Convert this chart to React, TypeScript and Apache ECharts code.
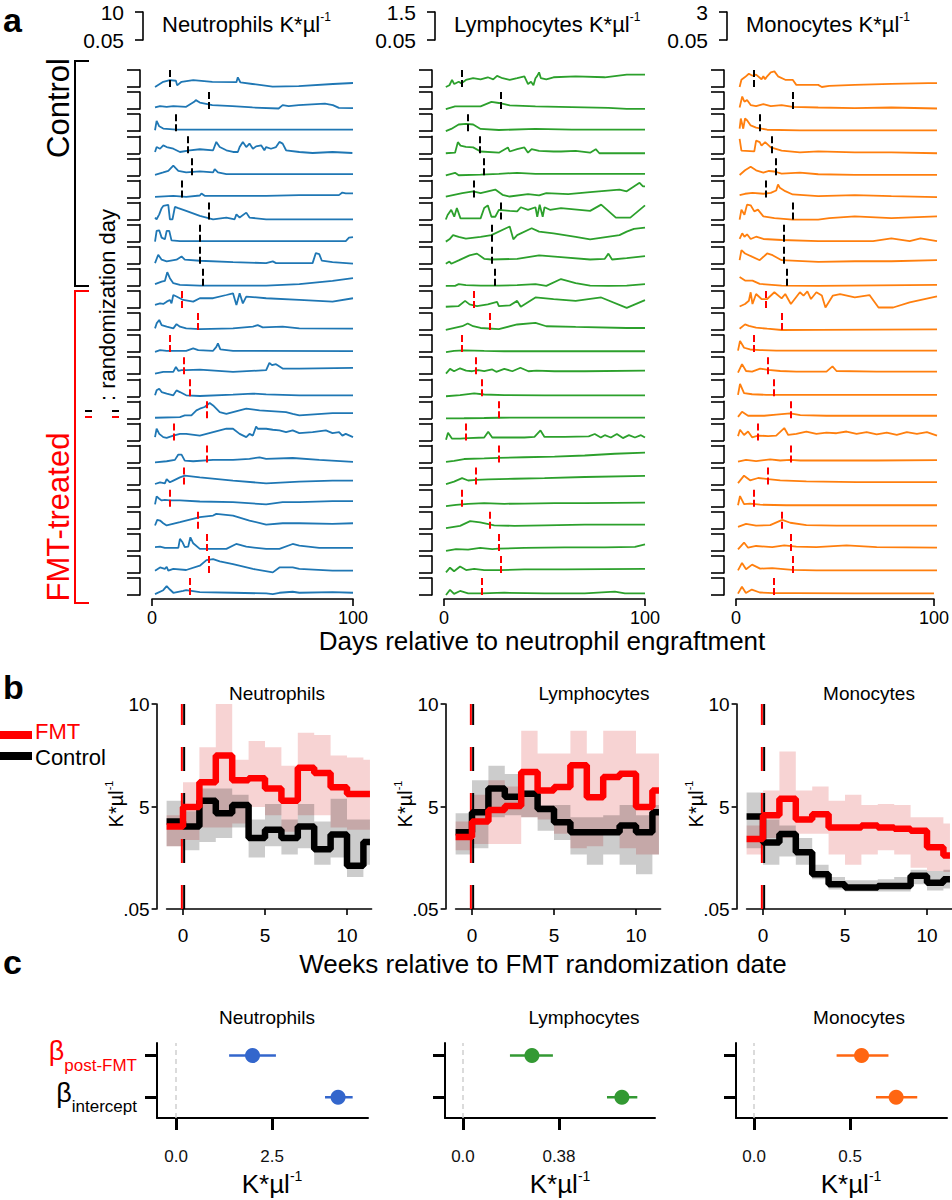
import React, { useEffect, useRef } from "react";
import * as echarts from "echarts";

const FONT = "'Liberation Sans', Arial, Helvetica, sans-serif";

// ================= Panel a data =================
const cellNames = ["Neutrophils", "Lymphocytes", "Monocytes"];
const rowScaleMin = 0.05;
const rowScaleMax = [10, 1.5, 3];
const rowScaleMaxLabel = ["10", "1.5", "3"];
const dayTicks = [0, 100];
const controlPatients = 10;
const randomizationDay = [9, 28, 12, 18, 20, 15, 28, 24, 24, 25, 15, 23, 9, 16, 19, 27, 11, 27, 16, 9, 23, 27, 28, 19];

const neutrophilRows = [
  [[1.5,0.1],[5.6,3.1],[8.9,4.1],[11.9,3.7],[12.5,1],[14.7,3.1],[20.5,4.1],[30,3.1],[42,2.9],[42.7,5.7],[44,2.7],[50,1.8],[60,0.3],[73,0.6],[90,1.8],[100,2.4]],
  [[1.5,1],[4,1.8],[7.3,1.4],[10.6,1.8],[17,1.4],[21,4.3],[21.8,5.3],[23.8,3.9],[30,2.4],[40,1.8],[50,1],[63,0.4],[65,2.4],[68,1.8],[73,2.4],[86,3.3],[90,2.4],[93,0.8],[100,0.6]],
  [[1.5,0.6],[2.3,6.1],[3.6,2.9],[5.6,1.6],[12,1],[50,1],[100,1]],
  [[1.5,0.8],[2.3,3.7],[4,2.7],[5.6,4.7],[7.3,3.7],[10.6,2.7],[13.9,0.8],[18.8,1.8],[23.8,2.4],[30.4,1.8],[32,6.7],[33.7,3.7],[37,1.8],[40.3,0.8],[42.7,0.8],[43.6,3.7],[45.2,6.7],[46.9,3.7],[48.5,5.7],[50.2,2.7],[51.8,4.1],[54.3,4.7],[55.9,1.8],[56.8,3.7],[59.2,2.7],[61.7,3.7],[63.4,6.7],[65,5.7],[66.7,1.8],[73.3,0.8],[79.9,0.2],[89.8,0.8],[99.7,0.2]],
  [[1.5,0.4],[5.6,1.8],[8.1,2.7],[10.6,5.7],[13.1,2.7],[17,1.8],[23.8,2.4],[30.4,1.8],[31.2,3.7],[32.8,1.8],[37,0.8],[50,0.8],[100,0.8]],
  [[1.5,0.4],[10.6,1],[17,0.4],[23.8,1.2],[24.6,2.4],[26.2,1],[40.3,1],[56.8,1],[73.3,1.4],[93,1.4],[94.7,2.9],[96.4,2.4],[100,2.4]],
  [[1.5,1.2],[2.3,0.2],[3.6,3.1],[4.8,6.7],[5.6,8],[8.1,8.6],[8.9,0.2],[10.2,0.2],[11.4,7.5],[13.1,6.7],[17,5.1],[23.8,2.2],[30.4,0.2],[37,1.2],[41.1,0.2],[42,3.1],[43.6,1.2],[46.9,4.1],[48.5,1.2],[56.8,0.2],[73.3,0.1],[89.8,0.2],[100,0.1]],
  [[1.5,0.1],[2.3,6.3],[3.6,6.7],[4.8,2.4],[6.4,1.4],[7.3,6.3],[8.6,6.3],[9.7,0.8],[13.9,0.4],[23.8,0.4],[56.8,0.4],[96.4,0.4],[98,2.4],[100,2.7]],
  [[1.5,0.4],[3.1,5.3],[4.8,2.4],[7.3,1.4],[12.2,2.4],[14.7,4.3],[16.3,2.4],[23.8,1.8],[40.3,1],[56.8,0.4],[60.1,1.4],[61.7,0.4],[79.9,0.4],[81.5,6.3],[83.2,5.7],[84.5,1.8],[89.8,1],[100,0.1]],
  [[1.5,1],[4.8,2.5],[6.4,2.9],[7.6,8],[8.9,4.5],[10.6,1.6],[13.9,0.6],[23.8,0.2],[56.8,0.2],[73.3,1],[89.8,2.9],[100,4.5]],
  [[1.5,1.8],[4,2.7],[5.6,2.4],[7.3,3.7],[8.9,4.7],[9.7,2.7],[10.6,7.6],[12.2,6.7],[15.5,4.7],[20.5,3.7],[23.8,5.7],[30.4,5.7],[37,7.6],[40.3,8.6],[42,1.8],[43.6,8.6],[45.2,2.7],[46.9,6.7],[56.8,5.7],[73.3,4.7],[89.8,3.7],[100,5.7]],
  [[1.5,1],[2.3,3.9],[3.6,5.9],[4.8,2.9],[7.3,2],[10.6,1],[12.2,3.5],[13.9,2],[17,1],[23.8,0.6],[40.3,1],[50.2,2],[52.6,2.9],[55.1,1.6],[65,2],[73.3,1],[100,0.8]],
  [[1.5,0.2],[4,1.2],[7.3,0.8],[10.6,0.8],[17,0.8],[20.5,2.2],[23,1.2],[30.4,0.8],[32,3.1],[32.8,5.1],[34,1.6],[40.3,0.8],[100,0.6]],
  [[1.5,0.4],[5.6,1.4],[10.6,1.4],[11.9,4.3],[13.1,2],[14.7,2.4],[17,2.4],[23.8,2.7],[40.3,1.4],[56.8,2.4],[58.4,6.7],[59.7,5.3],[61.7,5.9],[65,3.3],[66.7,3.3],[73.3,3.3],[100,3.7]],
  [[1.5,0.6],[2.3,3.5],[3.6,4.5],[4.8,2.5],[7.3,1.6],[10.6,0.6],[12.2,3.5],[13.9,2.5],[17,0.6],[23.8,0.2],[40.3,1],[50.2,1.6],[56.8,1.2],[73.3,0.6],[100,0.6]],
  [[1.5,0.4],[13.9,0.8],[16.3,1.8],[19.6,1.8],[22.1,4.7],[23.8,5.7],[26.2,6.7],[28.7,9],[30.4,7.6],[33.7,3.7],[37,2.7],[40.3,3.7],[46.9,5.7],[53.5,4.7],[66.7,3.7],[70,2.7],[73.3,1.8],[89.8,3.1],[100,3.1]],
  [[1.5,2],[2.3,6.9],[3.6,3.9],[5.6,2],[7.3,1.6],[10.6,2.9],[13.9,3.9],[17,3.9],[23.8,2.9],[30.4,4.9],[37,6.9],[40.3,6.9],[43.6,3.9],[46.9,2],[48.5,3.9],[50.2,2.9],[51.8,8.2],[52.6,6.9],[56.8,6.9],[60.1,6.3],[63.4,5.9],[66.7,4.9],[70,5.9],[73.3,4.3],[79.9,4.9],[86.5,5.9],[89.8,4.3],[93.1,4.9],[94.7,2.9],[96.4,3.9],[100,2]],
  [[1.5,0.2],[7.3,0.8],[11.4,1.6],[13.1,4.7],[14.7,4.7],[16.3,1.2],[20.5,0.8],[30.4,1.6],[40.3,1.6],[48.5,2.2],[53.5,3.1],[56.8,2.2],[70,2.7],[83.2,1.6],[100,0.4]],
  [[1.5,0.4],[4,1.4],[6.4,0.8],[7.3,3.3],[8.9,1.4],[10.6,2.4],[13.9,4.3],[16.3,5.3],[23.8,4.3],[40.3,2.4],[56.8,0.8],[73.3,1.8],[89.8,2.4],[100,2.4]],
  [[1.5,1.4],[2.3,6.1],[3.6,4.7],[4.8,3.7],[6.4,4.1],[8.9,3.7],[13.9,3.7],[23.8,3.1],[40.3,2.7],[56.8,1.4],[65,2.7],[73.3,2.7],[89.8,3.3],[100,3.3]],
  [[1.5,2],[2.6,5.3],[4,4.9],[5.6,3.3],[7.3,2],[13.9,3.9],[23.8,6.9],[30.4,7.8],[32,8.8],[40.3,7.8],[48.5,4.9],[56.8,2.5],[65,3.3],[73.3,3.3],[89.8,2.9],[100,3.3]],
  [[1.5,2.2],[4,2.5],[6.4,1.8],[13.1,1.8],[13.9,7.1],[15.2,5.1],[16.3,2.2],[18,2.5],[19.1,8],[20.5,4.5],[23.8,1.2],[30.4,1.2],[37,1.2],[41.9,4.1],[46.9,2.5],[56.8,1.2],[63.4,1.2],[70,4.1],[73.3,3.1],[83.2,1.8],[100,1.8]],
  [[1.5,1.4],[4,3.3],[6.4,2.4],[7.3,3.7],[8.1,1.4],[10.6,2.4],[17,1.8],[23.8,4.3],[27.1,7.6],[30.4,8.2],[33.7,6.9],[40.3,5.3],[50.2,2.4],[60.1,0.4],[63.4,3.3],[70,3.3],[73.3,2.4],[89.8,1.4],[100,1.4]],
  [[1.5,0.6],[5.6,2.9],[7.3,5.3],[8.9,3.3],[10.6,1.4],[15.5,2.5],[17,2.9],[23.8,1.8],[40.3,1.4],[56.8,1],[60.1,0.6],[63.4,1.4],[70,2],[73.3,1.4],[89.8,1.8],[100,1.4]],
];

const lymphocyteRows = [
  [[0.9,0.05],[2.7,0.2],[4,0.65],[5.1,0.3],[7.3,0.5],[8.7,0.36],[10.9,0.65],[14.5,0.8],[18.2,0.7],[21.8,0.88],[24.5,0.7],[26.4,1.0],[29.1,0.8],[32.7,0.65],[36.4,0.8],[40,0.95],[41.8,0.3],[43.3,0.5],[44.5,0.2],[45.5,0.8],[46.4,1.0],[47.3,1.3],[48.2,0.8],[50.9,0.7],[54.5,0.88],[65.5,0.95],[80,0.88],[90.9,1.1],[100,1.1]],
  [[0.9,0.05],[5.5,0.28],[10.9,0.28],[18.2,0.28],[23.6,0.66],[27.3,0.57],[32.7,0.37],[45.5,0.28],[63.6,0.22],[81.8,0.16],[90.9,0.07],[100,0.07]],
  [[0.9,0.05],[3.6,0.24],[7.3,0.62],[10.9,0.68],[14.5,0.62],[18.2,0.24],[27.3,0.15],[45.5,0.24],[63.6,0.18],[100,0.18]],
  [[0.9,0.05],[5.5,0.1],[6.9,1.0],[8.2,0.7],[10.9,0.6],[14.5,0.55],[18.2,0.2],[27.3,0.1],[31.8,0.55],[32.7,0.2],[36.4,0.4],[40,0.55],[41.8,0.1],[43.6,0.4],[47.3,0.25],[54.5,0.2],[58.2,0.2],[65.5,0.25],[72.7,0.1],[75.5,0.4],[77.3,0.05],[90.9,0.05],[100,0.05]],
  [[0.9,0.05],[5.5,0.27],[7.3,0.06],[18.2,0.12],[27.3,0.18],[36.4,0.27],[45.5,0.18],[63.6,0.18],[100,0.18]],
  [[0.9,0.13],[9.1,0.42],[14.5,0.57],[18.2,0.42],[25.5,0.72],[29.1,0.28],[32.7,0.13],[41.8,0.34],[47.3,0.22],[50.9,0.42],[61.8,0.34],[72.7,0.5],[87.3,0.72],[90.9,0.57],[97.3,1.3],[99,1.0],[100,1.0]],
  [[0.9,0.05],[1.8,0.44],[3.6,0.88],[5.1,0.29],[6.4,1.03],[8.2,0.15],[10,0.15],[18.2,0.15],[20,1.03],[21.8,1.26],[23.6,0.29],[25.5,0.29],[27.3,0.88],[32.7,0.79],[36.4,0.74],[38.2,1.1],[41.8,0.88],[45.5,1.1],[46.4,0.29],[47.6,1.32],[49.1,0.29],[50,1.1],[52.7,0.88],[58.2,1.03],[72.7,0.79],[78.2,1.32],[85.5,0.21],[92.7,0.21],[100,1.26]],
  [[0.9,0.05],[2.7,0.25],[4.5,0.6],[7.3,0.45],[10.9,0.31],[18.2,0.45],[23.6,0.6],[32.7,1.34],[34.5,0.25],[36.4,0.6],[43.6,1.19],[47.3,0.9],[54.5,0.75],[65.5,0.45],[72.7,0.25],[87.3,0.6],[90.9,0.9],[94.5,1.13],[100,1.25]],
  [[0.9,0.05],[2.7,0.24],[3.6,0.05],[7.3,0.33],[12.7,0.76],[16.4,0.91],[20,0.47],[23.6,0.41],[36.4,0.47],[47.3,0.76],[58.2,0.62],[72.7,0.41],[80,0.47],[81.8,0.91],[83.6,0.41],[90.9,0.53],[100,0.7]],
  [[0.9,0.05],[5.5,0.05],[7.3,0.19],[10.9,0.1],[18.2,0.07],[27.3,0.07],[36.4,0.1],[45.5,0.19],[50.9,0.05],[58.2,0.63],[65.5,0.28],[72.7,0.07],[81.8,0.05],[90.9,0.07],[100,0.19]],
  [[0.9,0.15],[7.3,0.21],[10.5,0.65],[12.7,0.35],[16.4,0.21],[21.8,0.35],[26.4,0.56],[27.3,0.21],[32.7,0.26],[36.4,0.65],[38.2,0.15],[45.5,0.94],[54.5,0.79],[65.5,0.65],[78.2,0.94],[90.9,0.05],[100,0.71]],
  [[0.9,0.05],[9.1,0.37],[11.8,0.6],[14.5,0.37],[18.2,0.22],[27.3,0.13],[36.4,0.52],[45.5,0.66],[50.9,0.37],[65.5,0.31],[90.9,0.22],[100,0.22]],
  [[1,0.05],[5,0.15],[10,0.2],[20,0.15],[30,0.12],[50,0.12],[70,0.12],[100,0.12]],
  [[1,0.1],[3,0.5],[5,0.3],[8,0.55],[11,0.35],[14,0.3],[17,0.4],[20,0.3],[24,0.45],[26,0.25],[30,0.5],[34,0.3],[38,0.6],[42,0.3],[46,0.35],[55,0.3],[70,0.3],[100,0.35]],
  [[1,0.05],[8,0.15],[15,0.3],[20,0.2],[30,0.15],[50,0.12],[80,0.12],[100,0.12]],
  [[1,0.05],[10,0.06],[20,0.08],[27,0.1],[35,0.12],[60,0.12],[100,0.12]],
  [[1,0.1],[2,0.7],[4,0.2],[8,0.2],[12,0.25],[20,0.3],[22,0.8],[24,0.3],[30,0.3],[40,0.3],[45,0.35],[48,0.9],[50,0.35],[60,0.35],[72,0.4],[75,0.6],[78,0.3],[80,0.5],[83,0.3],[86,0.6],[89,0.25],[92,0.5],[95,0.3],[98,0.5],[100,0.3]],
  [[1,0.1],[5,0.2],[10,0.35],[20,0.4],[27,0.45],[40,0.5],[55,0.55],[70,0.65],[85,0.8],[100,0.9]],
  [[1,0.1],[5,0.3],[9,0.6],[12,0.4],[16,0.45],[22,0.5],[35,0.55],[50,0.6],[70,0.7],[100,0.8]],
  [[1,0.1],[6,0.2],[12,0.3],[20,0.35],[30,0.3],[40,0.32],[55,0.35],[70,0.35],[100,0.4]],
  [[1,0.1],[8,0.3],[13,0.7],[18,0.6],[25,0.35],[35,0.3],[50,0.35],[70,0.4],[100,0.4]],
  [[1,0.05],[6,0.2],[12,0.15],[18,0.3],[24,0.2],[27,0.25],[40,0.3],[60,0.35],[80,0.35],[95,0.4],[100,0.6]],
  [[1,0.1],[3,0.5],[5,0.2],[8,0.6],[11,0.3],[15,0.4],[20,0.3],[28,0.3],[40,0.35],[60,0.35],[100,0.4]],
  [[1,0.05],[3,0.5],[5,0.15],[8,0.4],[12,0.2],[19,0.2],[30,0.25],[50,0.2],[70,0.2],[85,0.35],[90,0.2],[100,0.2]],
];

const monocyteRows = [
  [[1.8,0.05],[2.7,1.3],[4.5,1.77],[6.4,2.34],[8.2,2.0],[10,2.2],[12.7,1.4],[13.6,1.9],[14.5,1.4],[15.5,1.9],[17.3,2.6],[19.1,2.76],[20.9,1.9],[24.5,1.3],[28.2,1.3],[30,0.42],[40.9,0.42],[42.7,0.05],[46.4,0.24],[59.1,0.42],[77.3,0.6],[95.5,0.72],[100,0.72]],
  [[1.8,0.33],[3.1,2.22],[4.2,1.32],[5.5,1.62],[7.3,0.75],[10,0.57],[13.6,0.9],[17.3,0.57],[22.7,0.75],[28.2,0.45],[40.9,0.33],[59.1,0.21],[77.3,0.33],[100,0.15]],
  [[1.8,0.48],[2.4,2.25],[3.6,0.48],[4.5,2.25],[5.5,1.95],[7.3,1.05],[10,0.66],[15.5,0.3],[31.8,0.18],[59.1,0.18],[100,0.18]],
  [[1.8,2.55],[2.7,0.51],[9.1,0.39],[10,2.25],[11.8,1.98],[12.7,1.38],[14.5,1.98],[17.3,1.08],[22.7,0.51],[31.8,0.21],[40.9,0.39],[59.1,0.21],[77.3,0.21],[100,0.05]],
  [[1.8,0.12],[4.5,0.93],[7.3,1.53],[10,0.93],[13.6,0.54],[16.4,0.81],[19.1,0.72],[22.7,0.36],[31.8,0.54],[40.9,0.24],[59.1,0.12],[100,0.12]],
  [[1.8,0.45],[4.5,0.69],[8.2,0.84],[13.6,0.69],[17.3,0.84],[20,1.26],[20.9,2.31],[21.8,1.74],[24.5,1.14],[28.2,0.57],[40.9,0.27],[59.1,0.45],[77.3,0.27],[100,0.09]],
  [[1.8,0.05],[2.7,1.77],[4.2,0.87],[5.5,2.64],[7.3,2.52],[9.1,1.47],[10.9,1.77],[13.6,0.6],[19.1,0.3],[28.2,0.05],[40.9,0.05],[46.4,0.3],[59.1,0.6],[77.3,0.3],[100,0.6]],
  [[1.8,0.51],[3.1,1.5],[4.2,0.9],[5.5,1.32],[7.3,0.51],[10,0.9],[13.6,0.51],[22.7,0.33],[40.9,0.15],[68.2,0.15],[77.3,0.63],[86.4,0.15],[91.8,0.63],[100,0.15]],
  [[1.8,0.66],[2.7,2.4],[4.5,1.83],[8.2,1.23],[11.8,0.66],[15.5,1.83],[18.2,1.53],[22.7,0.66],[40.9,0.36],[59.1,0.48],[77.3,0.48],[100,0.66]],
  [[1.8,1.56],[4.5,0.96],[8.2,0.96],[11.8,0.39],[22.7,0.09],[40.9,0.05],[100,0.21]],
  [[1.8,0.3],[4.5,0.72],[6.4,1.29],[7.3,2.76],[8.2,0.72],[10,2.46],[12.7,1.59],[15.5,1.59],[19.1,2.76],[22.7,1.71],[24.5,2.46],[27.3,0.72],[31.8,2.76],[33.6,2.19],[35.5,2.9],[37.3,1.59],[40,2.76],[42.7,2.19],[44.5,0.12],[48.2,2.19],[51.8,2.46],[59.1,1.89],[66.4,2.28],[70.9,0.12],[78.2,0.12],[86.4,0.99],[100,2.07]],
  [[1.8,0.27],[4.5,1.02],[6.4,0.75],[10,0.45],[15.5,0.27],[22.7,0.05],[40.9,0.06],[100,0.15]],
  [[1,0.3],[2,2.0],[4,0.8],[7,0.5],[12,0.4],[20,0.3],[40,0.3],[70,0.3],[100,0.3]],
  [[1,0.3],[3,1.8],[5,0.6],[8,0.5],[12,1.0],[16,0.8],[22,0.6],[30,0.5],[45,0.5],[48,1.4],[50,0.6],[70,0.5],[100,0.5]],
  [[1,0.3],[2,2.2],[4,0.6],[8,0.4],[15,0.3],[30,0.3],[60,0.3],[100,0.3]],
  [[1,0.3],[3,1.2],[6,0.5],[14,0.5],[20,0.7],[27,0.9],[32,0.6],[45,0.5],[70,0.5],[100,0.5]],
  [[1,0.8],[2,1.9],[4,1.0],[6,1.6],[8,0.6],[11,0.9],[16,0.8],[20,0.9],[24,2.2],[26,1.0],[30,1.2],[35,1.6],[40,1.2],[45,1.4],[50,1.3],[55,1.6],[60,1.2],[65,1.5],[70,1.1],[75,1.4],[80,1.0],[85,1.5],[90,1.2],[95,1.5],[100,0.9]],
  [[1,0.2],[5,0.5],[10,0.3],[17,0.6],[22,0.4],[27,0.5],[32,0.4],[45,0.4],[70,0.4],[100,0.45]],
  [[1,0.3],[4,1.6],[7,0.8],[11,1.2],[16,1.0],[22,0.8],[35,0.6],[60,0.5],[100,0.5]],
  [[1,0.3],[2,1.9],[4,0.5],[7,0.6],[12,0.4],[25,0.3],[50,0.3],[100,0.3]],
  [[1,0.4],[5,0.9],[10,0.6],[17,0.7],[23,1.6],[27,1.1],[35,0.7],[50,0.6],[70,0.6],[100,0.6]],
  [[1,0.3],[4,1.5],[6,0.6],[10,0.9],[18,0.7],[24,1.0],[30,0.8],[40,0.7],[55,1.0],[70,0.7],[100,0.6]],
  [[1,0.5],[3,1.8],[5,0.7],[8,1.5],[12,0.8],[18,0.9],[28,0.6],[40,0.5],[70,0.5],[100,0.5]],
  [[1,0.3],[3,1.5],[5,0.4],[8,1.0],[12,0.5],[19,0.4],[30,0.4],[60,0.35],[100,0.35]],
];

// ================= Panel b data =================
const weekStarts = [-1, 0, 1, 2, 3, 4, 5, 6, 7, 8, 9, 10, 11];
const weekEnd = 11.4;
const weekTicks = [0, 5, 10];
const countTicks = [0.05, 5, 10];
const randomizationWeek = 0;

const neutFmtMean = [4.05, 5.0, 6.2, 7.5, 6.3, 6.4, 5.9, 5.3, 6.9, 6.65, 5.96, 5.63, 5.63];
const neutFmtHigh = [4.6, 6.2, 7.9, 10.0, 7.3, 8.2, 7.9, 7.0, 8.6, 8.5, 7.5, 7.4, 7.3];
const neutFmtLow = [3.1, 3.4, 4.0, 4.0, 4.2, 5.0, 4.6, 3.8, 4.6, 4.6, 4.0, 3.9, 3.9];
const neutCtrlMean = [4.3, 4.05, 5.3, 4.7, 5.1, 3.5, 3.9, 3.5, 4.05, 2.95, 3.66, 2.15, 3.3];
const neutCtrlHigh = [5.3, 4.8, 5.9, 5.9, 5.6, 4.4, 5.15, 4.4, 5.15, 4.3, 5.4, 4.4, 4.4];
const neutCtrlLow = [3.1, 2.9, 3.3, 3.5, 4.0, 2.55, 3.1, 2.7, 3.0, 2.2, 2.55, 1.6, 2.2];

const lymFmtMean = [3.55, 4.3, 4.85, 5.05, 6.7, 5.8, 5.97, 7.03, 5.48, 6.46, 6.62, 5.0, 5.8];
const lymFmtHigh = [4.3, 5.6, 6.3, 6.0, 8.7, 7.6, 7.6, 8.7, 7.6, 8.7, 8.7, 7.6, 7.6];
const lymFmtLow = [2.9, 3.2, 3.2, 3.2, 4.5, 4.4, 3.7, 3.0, 3.1, 3.7, 3.0, 2.7, 2.7];
const lymCtrlMean = [3.77, 4.75, 5.9, 5.5, 5.64, 4.9, 4.26, 3.77, 3.77, 3.77, 4.1, 3.77, 4.75];
const lymCtrlHigh = [4.7, 6.3, 7.0, 6.6, 5.8, 5.1, 5.1, 4.5, 4.5, 4.6, 5.1, 4.6, 5.1];
const lymCtrlLow = [2.7, 3.0, 4.5, 4.6, 4.5, 3.85, 3.4, 2.7, 2.2, 2.7, 2.2, 1.74, 2.7];

const monoFmtMean = [3.45, 4.6, 5.4, 4.4, 4.65, 4.0, 4.0, 4.1, 4.0, 3.95, 3.85, 3.05, 2.65];
const monoFmtHigh = [4.1, 5.8, 7.7, 5.8, 6.0, 5.3, 5.6, 5.1, 5.15, 5.1, 4.5, 4.5, 4.2];
const monoFmtLow = [2.7, 3.5, 3.5, 3.7, 3.7, 2.7, 2.2, 2.7, 2.9, 2.7, 2.05, 1.9, 1.85];
const monoCtrlMean = [4.54, 3.28, 3.69, 2.8, 1.74, 1.25, 1.09, 1.09, 1.17, 1.17, 1.66, 1.33, 1.5];
const monoCtrlHigh = [5.7, 4.4, 4.1, 3.5, 2.2, 1.6, 1.45, 1.45, 1.5, 1.6, 1.95, 1.9, 1.95];
const monoCtrlLow = [3.0, 2.2, 2.6, 2.2, 1.5, 1.0, 0.9, 0.9, 0.9, 0.9, 1.25, 0.95, 1.05];

// ================= Panel c data =================
const betaRows = ["intercept", "post-FMT"];
const betaEstimate = [[4.22, 1.99], [0.629, 0.273], [0.74, 0.56]];
const betaLower = [[3.88, 1.38], [0.57, 0.186], [0.635, 0.43]];
const betaUpper = [[4.6, 2.6], [0.69, 0.356], [0.85, 0.70]];
const betaTicks = [[0, 2.5], [0, 0.38], [0, 0.5]];
const betaTickLabels = [["0.0", "2.5"], ["0.0", "0.38"], ["0.0", "0.5"]];
const betaAxisMin = [-0.5, -0.071, -0.094];
const betaAxisMax = [5, 0.76, 1.005];

// ================= styling / layout =================
const traceColors = ["#1f77b4", "#2ca02c", "#ff7f0e"];
const betaColors = ["#3366cc", "#339933", "#ff6611"];
const RED = "#ff0000";

function buildOption() {
  const grid: any[] = [];
  const xAxis: any[] = [];
  const yAxis: any[] = [];
  const series: any[] = [];
  const graphic: any[] = [];
  let gi = 0;
  const addGrid = (g: any, x: any, y: any) => {
    grid.push({ ...g, containLabel: false });
    xAxis.push({ ...x, gridIndex: gi });
    yAxis.push({ ...y, gridIndex: gi });
    return gi++;
  };
  const axisLineBlack = (w: number) => ({ show: true, onZero: false, lineStyle: { color: "#000", width: w } });
  const txt = (x: number, y: number, text: string, extra: any = {}, opts: any = {}) => ({
    type: "text", x, y, z: 100, ...opts,
    style: { text, fontFamily: FONT, fill: "#000", align: "center", verticalAlign: "middle", ...extra },
  });
  const unitRich = (size: number, supSize: number, color = "#000") => ({
    t: { fontSize: size, fontFamily: FONT, color, lineHeight: size + 4 },
    s: { fontSize: supSize, fontFamily: FONT, color, verticalAlign: "top", lineHeight: supSize + 2 },
  });

  // ---------------- Panel a ----------------
  const aLeft = [152, 444, 736];
  const aWidth = 201;
  const aTop = 70;
  const aStep = 22.09;
  const aHeight = 17;
  const rowsByCell = [neutrophilRows, lymphocyteRows, monocyteRows];

  graphic.push(txt(3, 20, "a", { fontSize: 34, fontWeight: "bold", align: "left" }));

  for (let c = 0; c < 3; c++) {
    const max = rowScaleMax[c];
    addGrid(
      { left: aLeft[c] - 9, top: 12, width: 1, height: 28 },
      { type: "value", show: false, min: 0, max: 1 },
      {
        type: "value", min: rowScaleMin, max,
        axisLine: axisLineBlack(1.6),
        axisTick: { show: true, length: 8, customValues: [rowScaleMin, max], lineStyle: { color: "#000", width: 1.6 } },
        axisLabel: {
          show: true, customValues: [rowScaleMin, max], margin: 19, fontSize: 21, color: "#000", fontFamily: FONT,
          formatter: (v: number) => (v === max ? rowScaleMaxLabel[c] : "0.05"),
        },
        splitLine: { show: false },
      }
    );
    graphic.push({
      type: "text", x: aLeft[c] + 10, y: 24, z: 100,
      style: { text: `{t|${cellNames[c]} K*µl}{s|-1}`, rich: unitRich(22, 12), align: "left", verticalAlign: "middle" },
    });

    const rows = rowsByCell[c];
    for (let r = 0; r < rows.length; r++) {
      const last = r === rows.length - 1;
      const idx = addGrid(
        { left: aLeft[c], top: aTop + r * aStep, width: aWidth, height: aHeight },
        {
          type: "value", min: 0, max: 100, show: last, offset: 4,
          axisLine: axisLineBlack(1.6),
          axisTick: { show: true, length: 7, customValues: dayTicks, lineStyle: { color: "#000", width: 1.6 } },
          axisLabel: { show: true, customValues: dayTicks, fontSize: 18, color: "#000", margin: 10, fontFamily: FONT },
          splitLine: { show: false },
        },
        {
          type: "value", min: rowScaleMin, max, offset: 12,
          axisLine: axisLineBlack(1.6),
          axisTick: { show: true, length: 13, customValues: [rowScaleMin, max], lineStyle: { color: "#000", width: 1.6 } },
          axisLabel: { show: false },
          splitLine: { show: false },
        }
      );
      series.push({
        type: "line", xAxisIndex: idx, yAxisIndex: idx, data: rows[r], symbol: "none", clip: false,
        lineStyle: { color: traceColors[c], width: 1.8 },
        markLine: {
          silent: true, symbol: ["none", "none"], label: { show: false },
          lineStyle: { color: r < controlPatients ? "#000" : RED, type: [7, 3], width: 2 },
          data: [{ xAxis: randomizationDay[r] }],
        },
      });
    }
  }

  const bracket = (y1: number, y2: number, color: string) => [
    { type: "line", z: 100, shape: { x1: 75, y1, x2: 75, y2 }, style: { stroke: color, lineWidth: 2 } },
    { type: "line", z: 100, shape: { x1: 74, y1, x2: 89, y2: y1 }, style: { stroke: color, lineWidth: 2 } },
    { type: "line", z: 100, shape: { x1: 74, y1: y2, x2: 89, y2 }, style: { stroke: color, lineWidth: 2 } },
  ];
  graphic.push(...bracket(61, 286, "#000"));
  graphic.push(...bracket(291, 603, RED));
  graphic.push(txt(58, 108, "Control", { fontSize: 31 }, { rotation: Math.PI / 2 }));
  graphic.push(txt(58, 517, "FMT-treated", { fontSize: 31, fill: RED }, { rotation: Math.PI / 2 }));
  graphic.push(txt(107, 401, ": randomization day", { fontSize: 22, align: "left" }, { rotation: Math.PI / 2 }));
  graphic.push({ type: "line", z: 100, shape: { x1: 85, y1: 411, x2: 121, y2: 411 }, style: { stroke: "#000", lineWidth: 2, lineDash: [7, 20] } });
  graphic.push({ type: "line", z: 100, shape: { x1: 85, y1: 417, x2: 121, y2: 417 }, style: { stroke: RED, lineWidth: 2, lineDash: [7, 20] } });
  graphic.push(txt(542, 641, "Days relative to neutrophil engraftment", { fontSize: 26 }));

  // ---------------- Panel b ----------------
  graphic.push(txt(3, 687, "b", { fontSize: 34, fontWeight: "bold", align: "left" }));
  graphic.push({ type: "rect", z: 100, shape: { x: 0, y: 731, width: 32, height: 8 }, style: { fill: RED } });
  graphic.push(txt(35, 731, "FMT", { fontSize: 22, fill: RED, align: "left" }));
  graphic.push({ type: "rect", z: 100, shape: { x: 0, y: 752, width: 32, height: 8 }, style: { fill: "#000" } });
  graphic.push(txt(35, 757, "Control", { fontSize: 22, align: "left" }));
  graphic.push(txt(543, 964, "Weeks relative to FMT randomization date", { fontSize: 26 }));

  const bLeft = [166.6, 455.6, 746.6];
  const bTitleX = [277, 594, 869];
  const bData = [
    [neutFmtMean, neutFmtLow, neutFmtHigh, neutCtrlMean, neutCtrlLow, neutCtrlHigh],
    [lymFmtMean, lymFmtLow, lymFmtHigh, lymCtrlMean, lymCtrlLow, lymCtrlHigh],
    [monoFmtMean, monoFmtLow, monoFmtHigh, monoCtrlMean, monoCtrlLow, monoCtrlHigh],
  ];
  const stepData = (vals: number[]) =>
    weekStarts.map((w, i) => [w, vals[i]]).concat([[weekEnd, vals[vals.length - 1]]]);

  for (let c = 0; c < 3; c++) {
    const [fM, fL, fH, cM, cL, cH] = bData[c];
    const idx = addGrid(
      { left: bLeft[c], top: 704, width: 205, height: 205 },
      {
        type: "value", min: -1, max: 11.5,
        axisLine: axisLineBlack(1.6),
        axisTick: { show: true, length: 6, customValues: weekTicks, lineStyle: { color: "#000", width: 1.6 } },
        axisLabel: { show: true, customValues: weekTicks, fontSize: 19, color: "#000", margin: 17, fontFamily: FONT },
        splitLine: { show: false },
      },
      {
        type: "value", min: 0.05, max: 10, offset: 10,
        axisLine: axisLineBlack(1.6),
        axisTick: { show: true, length: 5, customValues: countTicks, lineStyle: { color: "#000", width: 1.6 } },
        axisLabel: {
          show: true, customValues: countTicks, fontSize: 19, color: "#000", margin: 7, fontFamily: FONT,
          formatter: (v: number) => (v === 0.05 ? ".05" : String(v)),
        },
        splitLine: { show: false },
      }
    );
    const band = (low: number[], high: number[], color: string) => ({
      type: "custom", xAxisIndex: idx, yAxisIndex: idx, z: 1, silent: true,
      data: [[weekStarts[0], low[0]]],
      renderItem: (_p: any, api: any) => {
        const top: number[][] = [];
        const bottom: number[][] = [];
        weekStarts.forEach((w, i) => {
          const next = i + 1 < weekStarts.length ? weekStarts[i + 1] : weekEnd;
          top.push(api.coord([w, high[i]]), api.coord([next, high[i]]));
          bottom.push(api.coord([w, low[i]]), api.coord([next, low[i]]));
        });
        return { type: "polygon", shape: { points: top.concat(bottom.reverse()) }, style: { fill: color } };
      },
    });
    series.push(band(fL, fH, "rgba(225,80,80,0.25)"));
    series.push(band(cL, cH, "rgba(0,0,0,0.2)"));
    const dashed = (dx: number, color: string) => ({
      type: "line", xAxisIndex: idx, yAxisIndex: idx, symbol: "none", z: 2, silent: true,
      data: [[randomizationWeek + dx, 0.05], [randomizationWeek + dx, 10]],
      lineStyle: { color, type: [24, 22], width: 2 },
    });
    series.push(dashed(-0.07, RED));
    series.push(dashed(0.07, "#000"));
    series.push({
      type: "line", xAxisIndex: idx, yAxisIndex: idx, data: stepData(cM), step: "end", symbol: "none", z: 3,
      lineStyle: { color: "#000", width: 6.5 },
    });
    series.push({
      type: "line", xAxisIndex: idx, yAxisIndex: idx, data: stepData(fM), step: "end", symbol: "none", z: 4,
      lineStyle: { color: RED, width: 6.5 },
    });
    graphic.push(txt(bTitleX[c], 693, cellNames[c], { fontSize: 19 }));
    graphic.push({
      type: "text", x: bLeft[c] - 51, y: 804, rotation: Math.PI / 2, z: 100,
      style: { text: "{t|K*µl}{s|-1}", rich: unitRich(20, 11), align: "center", verticalAlign: "middle" },
    });
  }

  // ---------------- Panel c ----------------
  graphic.push(txt(3, 962, "c", { fontSize: 34, fontWeight: "bold", align: "left" }));
  const cLeft = [157, 445, 736];
  const cWidth = [211, 210, 211];
  const cTitleX = [267, 584, 859];
  const cNameX = [272, 560, 851];
  const rowIdx = betaRows.map((_, i) => i);
  for (let c = 0; c < 3; c++) {
    const idx = addGrid(
      { left: cLeft[c], top: 1043, width: cWidth[c], height: 75 },
      {
        type: "value", min: betaAxisMin[c], max: betaAxisMax[c],
        axisLine: axisLineBlack(2),
        axisTick: { show: true, length: 12, customValues: betaTicks[c], lineStyle: { color: "#000", width: 3 } },
        axisLabel: {
          show: true, customValues: betaTicks[c], fontSize: 17, color: "#111", margin: 30, fontFamily: FONT,
          formatter: (v: number) => betaTickLabels[c][betaTicks[c].indexOf(v)] ?? String(v),
        },
        splitLine: { show: false },
      },
      {
        type: "value", min: -0.5, max: 1.3,
        axisLine: axisLineBlack(2),
        axisTick: { show: true, length: 12, customValues: rowIdx, lineStyle: { color: "#000", width: 3 } },
        axisLabel: {
          show: c === 0, customValues: rowIdx, margin: 20,
          formatter: (v: number) => (v === 1 ? "{rb|β}{rs|" + betaRows[1] + "}" : "{kb|β}{ks|" + betaRows[0] + "}"),
          rich: {
            rb: { fontSize: 27, color: RED, fontFamily: FONT, lineHeight: 36, verticalAlign: "top" },
            rs: { fontSize: 17, color: RED, fontFamily: FONT, verticalAlign: "bottom", lineHeight: 20 },
            kb: { fontSize: 27, color: "#000", fontFamily: FONT, lineHeight: 36, verticalAlign: "top" },
            ks: { fontSize: 17, color: "#000", fontFamily: FONT, verticalAlign: "bottom", lineHeight: 20 },
          },
        },
        splitLine: { show: false },
      }
    );
    rowIdx.forEach((ri) => {
      series.push({
        type: "line", xAxisIndex: idx, yAxisIndex: idx, symbol: "none", z: 3,
        data: [[betaLower[c][ri], ri], [betaUpper[c][ri], ri]],
        lineStyle: { color: betaColors[c], width: 2.5 },
      });
    });
    series.push({
      type: "scatter", xAxisIndex: idx, yAxisIndex: idx, z: 4, symbolSize: 15,
      data: rowIdx.map((ri) => [betaEstimate[c][ri], ri]),
      itemStyle: { color: betaColors[c], opacity: 1 },
      markLine: {
        silent: true, symbol: ["none", "none"], label: { show: false },
        lineStyle: { color: "#cfcfcf", type: [5, 4], width: 1.5 },
        data: [{ xAxis: 0 }],
      },
    });
    graphic.push(txt(cTitleX[c], 1017, cellNames[c], { fontSize: 19 }));
    graphic.push({
      type: "text", x: cNameX[c], y: 1184, z: 100,
      style: { text: "{t|K*µl}{s|-1}", rich: unitRich(26, 14), align: "center", verticalAlign: "middle" },
    });
  }

  return {
    animation: false,
    backgroundColor: "#fff",
    textStyle: { fontFamily: FONT },
    grid, xAxis, yAxis, series, graphic,
  };
}

export default function App() {
  const ref = useRef<HTMLDivElement>(null);
  useEffect(() => {
    if (!ref.current) return;
    const chart = echarts.init(ref.current, null, { renderer: "svg" });
    chart.setOption(buildOption() as any);
    return () => chart.dispose();
  }, []);
  return (
    <div
      ref={ref}
      style={{ position: "absolute", left: 0, top: 0, width: 952, height: 1200, background: "#fff" }}
    />
  );
}
